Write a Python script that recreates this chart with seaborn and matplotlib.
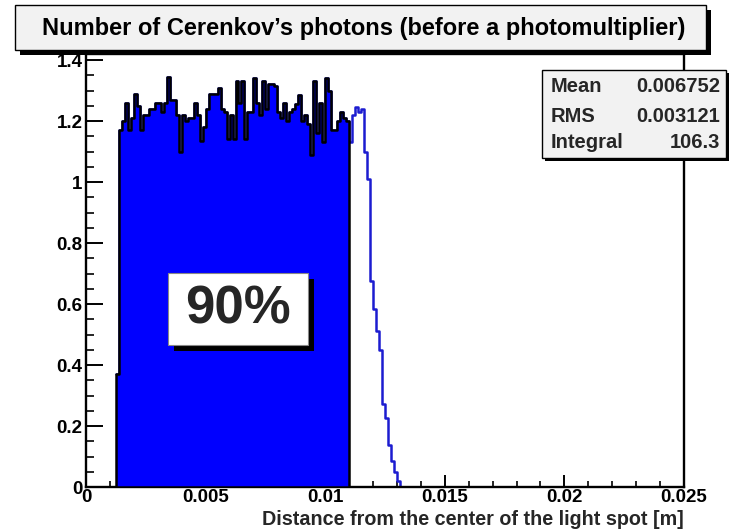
import numpy as np
import pandas as pd
import matplotlib
matplotlib.use("Agg")
import matplotlib.pyplot as plt
from matplotlib.patches import Rectangle
from matplotlib.ticker import FixedLocator, MultipleLocator
import seaborn as sns

# Histogram binning (metres)
bin_width = 0.000125
first_edge = 0.00125

# Photon counts per bin inside the 90 % region (0.00125 m .. 0.011 m)
core_counts = [
    0.37, 1.17, 1.20, 1.26, 1.17, 1.21, 1.29, 1.25, 1.17, 1.22,
    1.22, 1.24, 1.24, 1.26, 1.26, 1.23, 1.26, 1.345, 1.27, 1.27,
    1.22, 1.10, 1.22, 1.20, 1.21, 1.21, 1.26, 1.22, 1.135, 1.18,
    1.24, 1.29, 1.29, 1.29, 1.31, 1.24, 1.23, 1.14, 1.22, 1.14,
    1.33, 1.26, 1.33, 1.14, 1.23, 1.23, 1.34, 1.26, 1.22, 1.33,
    1.24, 1.32, 1.32, 1.315, 1.23, 1.21, 1.26, 1.20, 1.23, 1.24,
    1.255, 1.285, 1.20, 1.22, 1.19, 1.09, 1.33, 1.16, 1.26, 1.13,
    1.34, 1.30, 1.17, 1.17, 1.20, 1.23, 1.21, 1.20,
]
# Counts per bin beyond 0.011 m (falling edge of the spot)
tail_counts = [
    1.13, 1.22, 1.246, 1.23, 1.24, 1.10, 1.01, 0.676, 0.584,
    0.513, 0.449, 0.272, 0.226, 0.138, 0.085, 0.05, 0.02,
]

x_ticks = [0, 0.005, 0.01, 0.015, 0.02, 0.025]
x_tick_labels = ["0", "0.005", "0.01", "0.015", "0.02", "0.025"]
y_ticks = [0, 0.2, 0.4, 0.6, 0.8, 1.0, 1.2, 1.4]
y_tick_labels = ["0", "0.2", "0.4", "0.6", "0.8", "1", "1.2", "1.4"]

stats_names = ["Mean", "RMS", "Integral"]
stats_values = ["0.006752", "0.003121", "106.3"]

title_text = "Number of Cerenkov\u2019s photons (before a photomultiplier)"
x_label = "Distance from the center of the light spot [m]"
fraction_label = "90%"

sns.set_style("ticks")
plt.rcParams["font.family"] = ["Liberation Sans", "DejaVu Sans"]

W, H = 731, 531
fig = plt.figure(figsize=(W / 100, H / 100), dpi=100)
fig.patch.set_facecolor("white")


def fx(px):
    return px / W


def fy(py):
    return 1 - py / H


ax_left, ax_right, ax_top, ax_bottom = 86, 684, 54, 487
ax = fig.add_axes([fx(ax_left), fy(ax_bottom),
                   (ax_right - ax_left) / W, (ax_bottom - ax_top) / H])
ax.set_facecolor("white")

# all bins, with one empty bin at the end so the outline returns to zero
counts = np.array(core_counts + tail_counts + [0.0])
n_all = len(counts)
n_core = len(core_counts)
edges = first_edge + bin_width * np.arange(n_all + 1)
centers = 0.5 * (edges[:-1] + edges[1:])

df_all = pd.DataFrame({"r": centers, "n": counts})
df_core = df_all.iloc[:n_core]

# full distribution outline
sns.histplot(data=df_all, x="r", weights="n", bins=n_all,
             binrange=(edges[0], edges[-1]), element="step",
             fill=False, color="#1c1cd0", linewidth=1.8, ax=ax, zorder=2)
# filled 90 % region
sns.histplot(data=df_core, x="r", weights="n", bins=n_core,
             binrange=(edges[0], edges[n_core]), element="step", fill=True,
             color="#0000ff", alpha=1, edgecolor="black", linewidth=1.8,
             ax=ax, zorder=3)

ax.set_xlim(0, 0.025)
ax.set_ylim(0, 1.42)
ax.xaxis.set_major_locator(FixedLocator(x_ticks))
ax.set_xticklabels(x_tick_labels, fontsize=13.5, fontweight="bold")
ax.xaxis.set_minor_locator(MultipleLocator(0.001))
ax.yaxis.set_major_locator(FixedLocator(y_ticks))
ax.set_yticklabels(y_tick_labels, fontsize=13.5, fontweight="bold")
ax.yaxis.set_minor_locator(MultipleLocator(0.05))

ax.tick_params(axis="x", which="major", direction="in", length=8.5,
               width=1.4, pad=1.5, colors="black")
ax.tick_params(axis="x", which="minor", direction="in", length=4.3,
               width=1.4)
ax.tick_params(axis="y", which="major", direction="in", length=12.5,
               width=1.4, pad=2.5, colors="black")
ax.tick_params(axis="y", which="minor", direction="in", length=6,
               width=1.4)
for s in ax.spines.values():
    s.set_color("black")
    s.set_linewidth(1.7)

ax.set_ylabel("")
ax.set_xlabel(x_label, fontsize=14.2, fontweight="bold", loc="right",
              labelpad=3)


def shadow_box(x0, y0, x1, y1, face, shadow=4, edge="#555555", lw=0.8, z=10):
    sh = Rectangle((fx(x0 + shadow), fy(y1 + shadow)), (x1 - x0) / W,
                   (y1 - y0) / H, transform=fig.transFigure,
                   facecolor="black", edgecolor="none", zorder=z)
    bx = Rectangle((fx(x0), fy(y1)), (x1 - x0) / W, (y1 - y0) / H,
                   transform=fig.transFigure, facecolor=face,
                   edgecolor=edge, linewidth=lw, zorder=z + 0.1)
    fig.add_artist(sh)
    fig.add_artist(bx)


# title pave
shadow_box(15, 5, 706, 50, "#f2f2f2", shadow=5, edge="black", lw=1.0)
fig.text(fx(364), fy(28), title_text, ha="center", va="center",
         fontsize=17, fontweight="bold", color="black", zorder=12)

# statistics pave
shadow_box(542, 70, 726, 158, "#f2f2f2", shadow=3, edge="black", lw=1.0)
for name, val, yy in zip(stats_names, stats_values, [87, 116, 142]):
    fig.text(fx(551), fy(yy), name, ha="left", va="center", fontsize=14.5,
             fontweight="bold", zorder=12)
    fig.text(fx(720), fy(yy), val, ha="right", va="center", fontsize=14.5,
             fontweight="bold", zorder=12)

# fraction label pave
shadow_box(168, 273, 308, 345, "white", shadow=6, edge="#888888", lw=0.8)
fig.text(fx(238), fy(309), fraction_label, ha="center", va="center",
         fontsize=38, fontweight="bold", zorder=12)

fig.savefig("out.png", dpi=100, facecolor="white")
